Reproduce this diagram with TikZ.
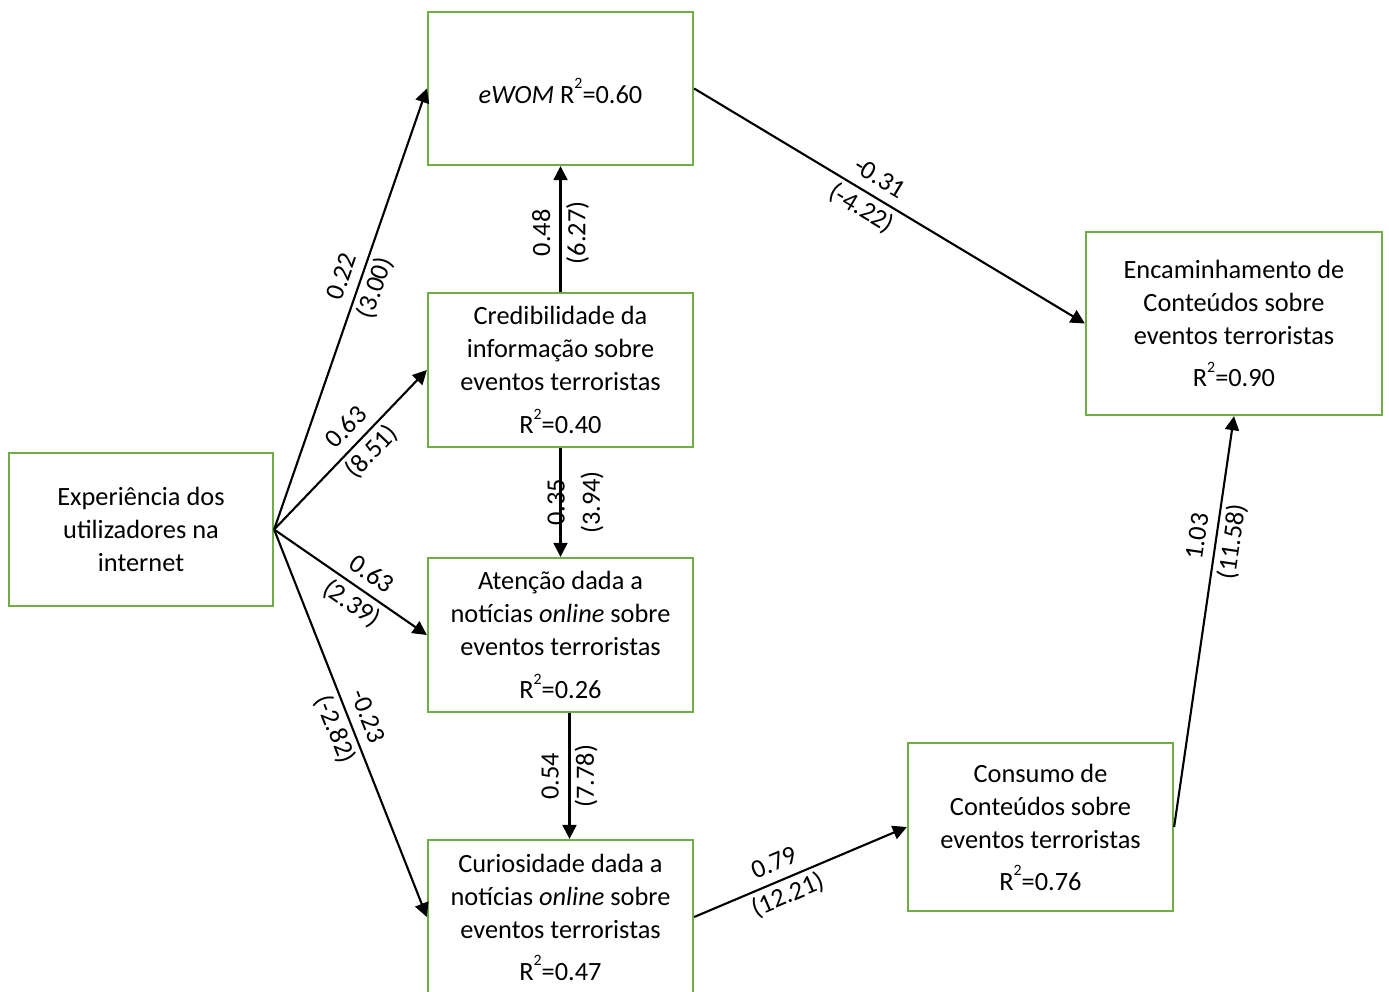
\documentclass[tikz,border=0pt]{standalone}
\usepackage{fontspec}
\setmainfont{Carlito}
\usetikzlibrary{arrows.meta, positioning}
\definecolor{boxgreen}{HTML}{70AD47}
\newcommand{\rsq}{R\raisebox{1.15ex}{\fontsize{9}{9}\selectfont 2}}

\begin{document}
\begin{tikzpicture}[
    x=0.02cm, y=-0.02cm,
    every node/.style={font=\fontsize{15}{18.8}\selectfont},
    var/.style={rectangle, draw=boxgreen, line width=1.3pt, align=center,
                inner sep=0pt, minimum width=5.3cm, minimum height=3.08cm},
    lnk/.style={-{Triangle[length=8pt, width=8pt]}, line width=1.2pt},
    coef/.style={align=center, inner sep=0pt, font=\fontsize{15}{20}\selectfont},
]
\useasboundingbox (0,0) rectangle (1389,991);

% ================================================================ boxes
\node[var, minimum width=5.28cm, minimum height=3.06cm] (exp) at (141, 529.5)
    {Experiência dos\\utilizadores na\\internet};
\node[var, minimum height=3.06cm] (ewom) at (560.5, 88.5)
    {\rule{0pt}{17pt}\textit{eWOM} \rsq=0.60};
\node[var] (cred) at (560.5, 370)
    {Credibilidade da\\informação sobre\\eventos terroristas\\[6pt]\rsq=0.40};
\node[var] (aten) at (560.5, 635)
    {Atenção dada a\\notícias \textit{online} sobre\\eventos terroristas\\[6pt]\rsq=0.26};
\node[var] (curi) at (560.5, 917)
    {Curiosidade dada a\\notícias \textit{online} sobre\\eventos terroristas\\[5pt]\rsq=0.47};
\node[var, minimum height=3.36cm] (cons) at (1040.5, 827)
    {Consumo de\\Conteúdos sobre\\eventos terroristas\\[5pt]\rsq=0.76};
\node[var, minimum width=5.92cm, minimum height=3.66cm] (enc) at (1234, 323.5)
    {Encaminhamento de\\Conteúdos sobre\\eventos terroristas\\[5pt]\rsq=0.90};

% ================================================================ paths from experience
\draw[lnk] (exp.east) -- node[coef, sloped, pos=0.56] {0.22\\(3.00)} (ewom.west);
\draw[lnk] (exp.east) -- node[coef, sloped, pos=0.56] {0.63\\(8.51)} (cred.west);
\draw[lnk] (exp.east) -- node[coef, sloped, pos=0.57] {0.63\\(2.39)} (aten.west);
\draw[lnk] (exp.east) -- node[coef, sloped, pos=0.5] {-0.23\\(-2.82)} (curi.west);

% ================================================================ middle column
\draw[lnk] (cred.north) -- node[coef, sloped, pos=0.47] {0.48\\(6.27)} (ewom.south);
\draw[lnk] (cred.south) -- node[coef, rotate=90, yshift=-0.3cm] {0.35\\(3.94)} (aten.north);
\draw[lnk] ([xshift=0.18cm]aten.south) -- node[coef, rotate=90] {0.54\\(7.78)} ([xshift=0.18cm]curi.north);

% ================================================================ right side
\draw[lnk] (ewom.east) -- node[coef, sloped, pos=0.45] {-0.31\\(-4.22)} (enc.west);
\draw[lnk] (curi.east) -- node[coef, sloped, pos=0.41] {0.79\\(12.21)} (cons.west);
\draw[lnk] (cons.east) -- node[coef, sloped, pos=0.7] {1.03\\(11.58)} (enc.south);

\end{tikzpicture}
\end{document}
